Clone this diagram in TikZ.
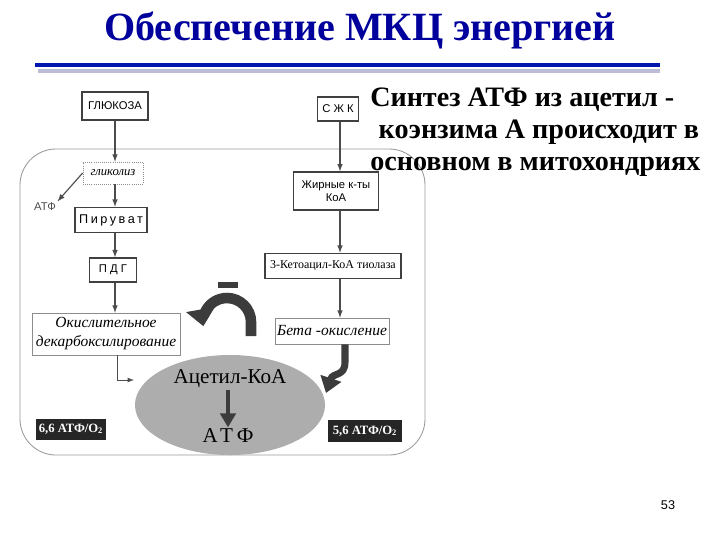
\documentclass[tikz,border=0pt]{standalone}
\usepackage{fontspec}
\setmainfont{Liberation Serif}
\setsansfont{Liberation Sans}
\usetikzlibrary{arrows.meta,shapes.geometric}
\definecolor{MyNavy}{HTML}{00009C}
\definecolor{MyBlue}{HTML}{0018B0}
\definecolor{MyLilac}{HTML}{BCBCD4}
\definecolor{MyDark}{HTML}{3C3C3C}

\begin{document}
\begin{tikzpicture}[x=0.025cm, y=-0.025cm,
	box/.style={draw=black!75, line width=1.1pt, inner sep=0pt, font=\sffamily\fontsize{8}{9}\selectfont},
	thinbox/.style={draw=black!45, line width=0.5pt, inner sep=0pt},
	flow/.style={draw=black!70, line width=0.8pt, -latex},
	loop/.style={draw=MyDark, line width=7.5pt, -{Triangle[width=20pt,length=12pt]}},
	hook/.style={draw=MyDark, line width=5pt, -{Triangle[width=15pt,length=11pt]}},
	rate/.style={fill=black!85, text=white, inner sep=0pt, font=\fontsize{9}{10}\selectfont\bfseries}]
	
	\useasboundingbox (0,0) rectangle (720,540);
	
	% header
	\node[text=MyNavy, font=\fontsize{28.5}{31}\selectfont\bfseries] (title) at (360,30) {Обеспечение МКЦ энергией};
	\draw[MyBlue, line width=2.2pt] (35,65) -- (660,65);
	\draw[MyLilac, line width=2.2pt] (38,71) -- (660,71);
	
	% cell frame
	\draw[black!40, line width=0.6pt, rounded corners=0.9cm] (20,149) rectangle (425,455);
	
	% left branch
	\node[box, minimum width=1.65cm, minimum height=0.7cm] (gluc) at (115,106) {ГЛЮКОЗА};
	\node[thinbox, densely dotted, minimum width=1.5cm, minimum height=0.55cm,
		font=\itshape\fontsize{9}{10}\selectfont] (glyc) at (113,173) {гликолиз};
	\node[inner sep=1pt, text=black!70, font=\sffamily\fontsize{8}{9}\selectfont] (atpl) at (45,207) {АТФ};
	\node[box, minimum width=1.8cm, minimum height=0.625cm,
		font=\sffamily\fontsize{9}{10}\selectfont\addfontfeature{LetterSpace=20}] (pir) at (111,220) {Пируват};
	\node[box, minimum width=1.175cm, minimum height=0.6cm] (pdg) at (113,270) {П Д Г};
	\node[thinbox, minimum width=3.7cm, minimum height=1.05cm, align=center,
		font=\itshape\fontsize{11}{13.5}\selectfont] (decarb) at (106,334) {Окислительное\\декарбоксилирование};
	
	% right branch
	\node[box, minimum width=1.025cm, minimum height=0.6cm] (sjk) at (338,109) {С Ж К};
	\node[box, line width=0.9pt, minimum width=2.125cm, minimum height=0.95cm, align=center] (acyl) at (336,191) {Жирные к-ты\\КоА};
	\node[box, minimum width=3.4cm, minimum height=0.625cm,
		font=\fontsize{8.5}{10}\selectfont] (tiol) at (333,266) {3-Кетоацил-КоА тиолаза};
	\node[thinbox, minimum width=2.85cm, minimum height=0.65cm,
		font=\itshape\fontsize{11}{13}\selectfont] (beta) at (332,331) {Бета -окисление};
	
	% acetyl-CoA pool
	\node[ellipse, fill=black!32, minimum width=4.75cm, minimum height=2.5cm, inner sep=0pt] (acoa) at (230,405) {};
	\node[inner sep=1pt, font=\fontsize{15}{17}\selectfont] (actext) at (230,379) {Ацетил-КоА};
	\node[inner sep=1pt, font=\fontsize{15}{17}\selectfont\addfontfeature{LetterSpace=20}] (atpc) at (228,436) {АТФ};
	\draw[MyDark, line width=3.5pt, -{Triangle[width=11pt,length=10pt]}] (actext.south -| atpc.north) -- (atpc.north);
	
	% yields
	\node[rate, minimum width=1.75cm, minimum height=0.525cm] (r66) at (71,429) {6,6 АТФ/О\textsubscript{2}};
	\node[rate, minimum width=1.85cm, minimum height=0.55cm] (r56) at (365,431) {5,6 АТФ/О\textsubscript{2}};
	
	% thin arrows
	\coordinate (lx) at (115,0);
	\coordinate (rx) at (340,0);
	\draw[flow] (gluc.south -| lx) -- (glyc.north -| lx);
	\draw[flow] (glyc.west) -- (atpl.north east);
	\draw[flow] (glyc.south -| lx) -- (pir.north -| lx);
	\draw[flow] (pir.south -| lx) -- (pdg.north -| lx);
	\draw[flow] (pdg.south -| lx) -- (decarb.north -| lx);
	\coordinate (elb) at (134,380);
	\draw[flow, line width=0.6pt] ([xshift=0.275cm]decarb.south) |- (elb);
	\draw[flow] (sjk.south -| rx) -- (acyl.north -| rx);
	\draw[flow] (acyl.south -| rx) -- (tiol.north -| rx);
	\draw[flow] (tiol.south -| rx) -- (beta.north -| rx);
	
	% feedback and supply
	\node[fill=MyDark, minimum width=0.5cm, minimum height=0.17cm, inner sep=0pt] (minus) at (228,285) {};
	\coordinate (loopR) at (251,336);
	\draw[loop] (loopR) -- (251,322) arc[start angle=0, end angle=-190, radius=24];
	\coordinate (hookEnd) at (326,393);
	\draw[hook] ([xshift=0.325cm]beta.south) -- (345,362) .. controls (345,377) and (333,372) .. (hookEnd);
	
	% side note
	\node[anchor=north west, align=left, inner sep=0pt,
		font=\fontsize{20}{22.5}\selectfont\bfseries] (note) at (370,88)
		{Синтез АТФ из ацетил -\\\hspace{0.3em}коэнзима А происходит в\\основном в митохондриях};
	
	\node[font=\sffamily\fontsize{9}{10}\selectfont] (page) at (668,505) {53};
\end{tikzpicture}
\end{document}
